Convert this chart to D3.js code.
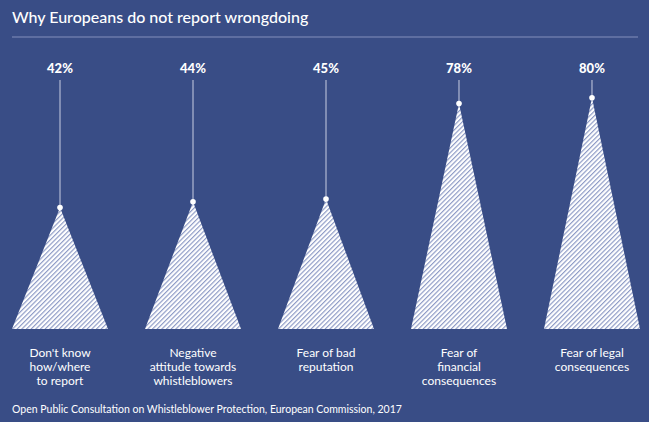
<!DOCTYPE html>
<html>
<head>
<meta charset="utf-8">
<script src="https://cdn.jsdelivr.net/npm/d3@7"></script>
<style>
  html, body { margin: 0; padding: 0; background: #394d86; }
  svg { display: block; font-family: Lato, "Open Sans", sans-serif; }
</style>
</head>
<body>
<div id="chart"></div>
<script>
// values
const categories = ['dontknow', 'negative', 'badrep', 'financial', 'legal'];
const values = [42, 44, 45, 78, 80];
const labelLines = [
  ["Don't know", 'how/where', 'to report'],
  ['Negative', 'attitude towards', 'whistleblowers'],
  ['Fear of bad', 'reputation'],
  ['Fear of', 'financial', 'consequences'],
  ['Fear of legal', 'consequences']
];

(function() {
  const width = 649;
  const height = 422;
  const bg = '#394d86';

  const svg = d3.select('#chart')
    .append('svg')
    .attr('width', width)
    .attr('height', height);

  svg.append('rect')
    .attr('width', width)
    .attr('height', height)
    .attr('fill', bg);

  // hatch pattern for the triangles
  const step = 3.3;
  const pat = svg.append('defs').append('pattern')
    .attr('id', 'hatch')
    .attr('patternUnits', 'userSpaceOnUse')
    .attr('width', step)
    .attr('height', step)
    .attr('patternTransform', 'rotate(45)');
  pat.append('rect')
    .attr('width', step)
    .attr('height', step)
    .attr('fill', '#ffffff');
  pat.append('line')
    .attr('x1', 0.6).attr('y1', 0)
    .attr('x2', 0.6).attr('y2', step)
    .attr('stroke', '#8795c3')
    .attr('stroke-width', 1.1);

  // title + rule
  svg.append('text')
    .attr('x', 12)
    .attr('y', 23)
    .attr('fill', '#fff')
    .attr('font-size', '16px')
    .attr('font-weight', 500)
    .text('Why Europeans do not report wrongdoing');

  svg.append('line')
    .attr('x1', 12).attr('x2', 638)
    .attr('y1', 37).attr('y2', 37)
    .attr('stroke', '#8390bb')
    .attr('stroke-width', 1.2);

  const x = d3.scaleBand()
    .domain(categories)
    .range([12, 640])
    .paddingInner(0.278)
    .paddingOuter(0);

  const y = d3.scaleLinear()
    .domain([0, 100])
    .range([329, 40]);

  const g = svg.selectAll('.item')
    .data(categories)
    .enter()
    .append('g')
    .attr('class', 'item');

  g.append('path')
    .attr('d', (d, i) => {
      const x0 = x(d), x1 = x(d) + x.bandwidth(), xm = x(d) + x.bandwidth() / 2;
      return `M${x0},${y(0)}L${xm},${y(values[i])}L${x1},${y(0)}Z`;
    })
    .attr('fill', 'url(#hatch)');

  g.append('line')
    .attr('x1', d => x(d) + x.bandwidth() / 2)
    .attr('x2', d => x(d) + x.bandwidth() / 2)
    .attr('y1', 80)
    .attr('y2', (d, i) => y(values[i]))
    .attr('stroke', '#c9cee2')
    .attr('stroke-width', 1);

  g.append('circle')
    .attr('cx', d => x(d) + x.bandwidth() / 2)
    .attr('cy', (d, i) => y(values[i]))
    .attr('r', 2.8)
    .attr('fill', '#fff');

  g.append('text')
    .attr('x', d => x(d) + x.bandwidth() / 2)
    .attr('y', 73)
    .attr('text-anchor', 'middle')
    .attr('fill', '#fff')
    .attr('font-size', '13px')
    .attr('font-weight', 900)
    .text((d, i) => values[i] + '%');

  g.append('text')
    .attr('x', d => x(d) + x.bandwidth() / 2)
    .attr('y', 357)
    .attr('text-anchor', 'middle')
    .attr('fill', '#fff')
    .attr('font-size', '12px')
    .selectAll('tspan')
    .data((d, i) => labelLines[i])
    .enter()
    .append('tspan')
    .attr('x', function() { return d3.select(this.parentNode).attr('x'); })
    .attr('dy', (d, j) => j === 0 ? 0 : 14)
    .text(d => d);

  svg.append('text')
    .attr('x', 12)
    .attr('y', 413)
    .attr('fill', '#fff')
    .attr('font-size', '10.5px')
    .text('Open Public Consultation on Whistleblower Protection, European Commission, 2017');
})();
</script>
</body>
</html>
